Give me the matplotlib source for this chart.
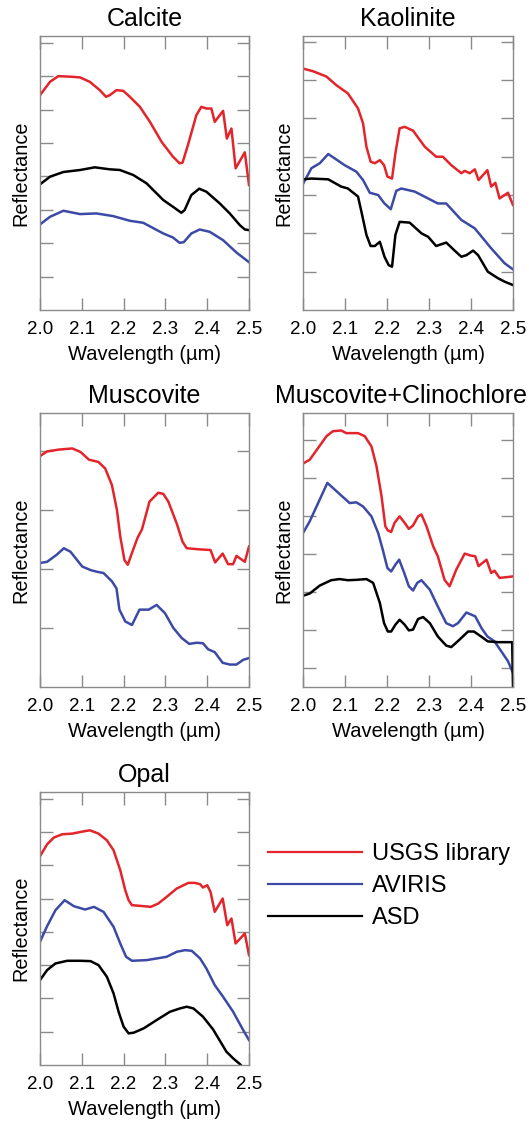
import numpy as np
import matplotlib.pyplot as plt
from matplotlib.lines import Line2D

plt.rcParams['font.family'] = ['Liberation Sans', 'DejaVu Sans']

RED = '#e3242b'
BLUE = '#3c4aa6'
BLACK = '#000000'
GRID = '#8a8a8a'

# ---- Calcite ----
calcite_usgs_x = [2.0, 2.024, 2.044, 2.076, 2.096, 2.119, 2.143, 2.158, 2.167, 2.183, 2.199, 2.215, 2.239,
                  2.263, 2.291, 2.318, 2.334, 2.341, 2.354, 2.374, 2.386, 2.398, 2.410, 2.418, 2.438,
                  2.447, 2.458, 2.468, 2.490, 2.5]
calcite_usgs_y = [6.43, 6.83, 7.0, 6.98, 6.96, 6.83, 6.58, 6.38, 6.43, 6.58, 6.56, 6.38, 6.08,
                  5.63, 5.03, 4.59, 4.39, 4.41, 4.94, 5.83, 6.08, 6.03, 6.03, 5.63, 5.96,
                  5.13, 5.43, 4.24, 4.72, 3.74]
calcite_aviris_x = [2.0, 2.024, 2.056, 2.096, 2.135, 2.175, 2.215, 2.247, 2.295, 2.318, 2.334, 2.344,
                    2.362, 2.382, 2.406, 2.438, 2.470, 2.5]
calcite_aviris_y = [2.56, 2.79, 2.97, 2.87, 2.89, 2.81, 2.67, 2.61, 2.29, 2.17, 2.01, 2.03,
                    2.29, 2.41, 2.34, 2.09, 1.72, 1.43]
calcite_asd_x = [2.0, 2.024, 2.056, 2.096, 2.131, 2.167, 2.191, 2.223, 2.255, 2.295, 2.318, 2.338,
                 2.346, 2.362, 2.381, 2.398, 2.430, 2.454, 2.478, 2.490, 2.5]
calcite_asd_y = [3.76, 3.99, 4.13, 4.19, 4.27, 4.21, 4.19, 4.04, 3.79, 3.29, 3.09, 2.91,
                 2.99, 3.44, 3.63, 3.54, 3.19, 2.89, 2.54, 2.41, 2.39]

# ---- Kaolinite ----
kaol_usgs_x = [2.0, 2.024, 2.056, 2.079, 2.107, 2.131, 2.143, 2.151, 2.161, 2.171, 2.183, 2.193, 2.201,
               2.212, 2.220, 2.230, 2.242, 2.262, 2.290, 2.317, 2.333, 2.353, 2.377, 2.385, 2.397,
               2.409, 2.418, 2.439, 2.448, 2.458, 2.468, 2.488, 2.5]
kaol_usgs_y = [6.30, 6.23, 6.09, 5.87, 5.65, 5.26, 4.87, 4.26, 3.87, 3.83, 3.91, 3.78, 3.48,
               3.43, 4.09, 4.74, 4.78, 4.68, 4.26, 4.0, 4.0, 3.78, 3.57, 3.63, 3.57,
               3.67, 3.39, 3.65, 3.22, 3.32, 2.91, 3.06, 2.74]
kaol_aviris_x = [2.0, 2.020, 2.040, 2.060, 2.075, 2.099, 2.127, 2.143, 2.159, 2.179, 2.194, 2.209,
                 2.222, 2.234, 2.266, 2.298, 2.321, 2.341, 2.377, 2.409, 2.448, 2.480, 2.5]
kaol_aviris_y = [3.29, 3.70, 3.83, 4.07, 3.96, 3.78, 3.61, 3.39, 3.06, 3.0, 2.78, 2.63,
                 3.11, 3.17, 3.09, 2.91, 2.78, 2.78, 2.35, 2.13, 1.61, 1.22, 1.06]
kaol_asd_x = [2.0, 2.020, 2.060, 2.091, 2.107, 2.131, 2.140, 2.151, 2.161, 2.171, 2.183, 2.194, 2.204,
              2.212, 2.220, 2.230, 2.254, 2.282, 2.298, 2.317, 2.341, 2.361, 2.377, 2.389, 2.405,
              2.417, 2.440, 2.464, 2.480, 2.5]
kaol_asd_y = [3.41, 3.43, 3.41, 3.22, 3.17, 2.96, 2.52, 1.96, 1.67, 1.67, 1.78, 1.39, 1.17,
              1.13, 1.96, 2.30, 2.28, 2.0, 1.91, 1.67, 1.76, 1.55, 1.39, 1.43, 1.55,
              1.43, 1.0, 0.83, 0.74, 0.65]

# ---- Muscovite ----
musc_usgs_x = [2.0, 2.017, 2.045, 2.077, 2.097, 2.117, 2.140, 2.156, 2.172, 2.184, 2.192, 2.202, 2.210,
               2.221, 2.233, 2.244, 2.262, 2.283, 2.295, 2.307, 2.327, 2.341, 2.351, 2.383, 2.408,
               2.419, 2.437, 2.450, 2.462, 2.470, 2.490, 2.5]
musc_usgs_y = [3.91, 3.99, 4.02, 4.04, 3.98, 3.85, 3.81, 3.70, 3.42, 3.0, 2.55, 2.15, 2.07,
               2.29, 2.52, 2.67, 3.14, 3.29, 3.27, 3.14, 2.77, 2.46, 2.35, 2.33, 2.32,
               2.11, 2.26, 2.08, 2.08, 2.22, 2.12, 2.38]
musc_aviris_x = [2.0, 2.017, 2.040, 2.057, 2.073, 2.101, 2.121, 2.137, 2.152, 2.172, 2.183, 2.190,
                 2.204, 2.220, 2.238, 2.260, 2.279, 2.299, 2.319, 2.339, 2.357, 2.375, 2.390, 2.402,
                 2.418, 2.437, 2.454, 2.470, 2.486, 2.5]
musc_aviris_y = [2.10, 2.12, 2.24, 2.35, 2.29, 2.04, 1.98, 1.95, 1.93, 1.79, 1.67, 1.31,
                 1.11, 1.05, 1.31, 1.31, 1.39, 1.25, 1.0, 0.83, 0.73, 0.75, 0.74, 0.64,
                 0.59, 0.41, 0.38, 0.38, 0.46, 0.49]

# ---- Muscovite+Clinochlore ----
mc_usgs_x = [2.0, 2.016, 2.036, 2.056, 2.071, 2.091, 2.103, 2.131, 2.147, 2.163, 2.175, 2.187, 2.196,
             2.202, 2.210, 2.218, 2.230, 2.242, 2.252, 2.262, 2.274, 2.282, 2.294, 2.310, 2.321,
             2.337, 2.349, 2.365, 2.385, 2.399, 2.410, 2.418, 2.437, 2.448, 2.456, 2.468, 2.5]
mc_usgs_y = [5.88, 5.98, 6.29, 6.60, 6.73, 6.75, 6.68, 6.68, 6.60, 6.33, 5.81, 5.02, 4.23,
             4.12, 4.08, 4.32, 4.49, 4.32, 4.16, 4.25, 4.49, 4.54, 4.23, 3.70, 3.44,
             2.82, 2.65, 3.09, 3.51, 3.46, 3.44, 3.18, 3.35, 3.0, 3.06, 2.87, 2.91]
mc_aviris_x = [2.0, 2.016, 2.036, 2.058, 2.067, 2.091, 2.111, 2.127, 2.143, 2.163, 2.179, 2.190, 2.201,
               2.210, 2.220, 2.229, 2.241, 2.252, 2.262, 2.272, 2.282, 2.302, 2.321, 2.341, 2.357,
               2.369, 2.389, 2.410, 2.425, 2.439, 2.456, 2.472, 2.488, 2.5]
mc_aviris_y = [4.05, 4.36, 4.84, 5.37, 5.28, 5.04, 4.84, 4.86, 4.75, 4.49, 4.05, 3.61, 3.13,
               3.04, 3.22, 3.35, 3.0, 2.65, 2.54, 2.74, 2.81, 2.56, 2.12, 1.68, 1.60,
               1.68, 1.96, 1.86, 1.55, 1.33, 1.20, 0.94, 0.68, 0.37]
mc_asd_x = [2.0, 2.016, 2.040, 2.067, 2.087, 2.107, 2.127, 2.151, 2.167, 2.183, 2.193, 2.202, 2.210,
            2.220, 2.230, 2.242, 2.252, 2.262, 2.274, 2.286, 2.302, 2.321, 2.341, 2.353, 2.373,
            2.393, 2.407, 2.429, 2.440, 2.464, 2.498, 2.5]
mc_asd_y = [2.40, 2.46, 2.67, 2.81, 2.84, 2.81, 2.82, 2.84, 2.74, 2.21, 1.68, 1.46, 1.46,
            1.64, 1.77, 1.64, 1.49, 1.51, 1.79, 1.84, 1.68, 1.33, 1.09, 1.05, 1.25,
            1.46, 1.46, 1.29, 1.20, 1.18, 1.18, 0.0]

# ---- Opal ----
opal_usgs_x = [2.0, 2.017, 2.033, 2.053, 2.077, 2.097, 2.119, 2.140, 2.160, 2.176, 2.192, 2.204, 2.212,
               2.220, 2.240, 2.265, 2.283, 2.303, 2.327, 2.355, 2.371, 2.383, 2.390, 2.400, 2.408,
               2.418, 2.437, 2.448, 2.458, 2.468, 2.490, 2.5]
opal_usgs_y = [6.27, 6.63, 6.83, 6.93, 6.95, 7.0, 7.05, 6.95, 6.75, 6.45, 5.85, 5.25, 4.95,
               4.80, 4.78, 4.75, 4.85, 5.05, 5.30, 5.47, 5.47, 5.43, 5.33, 5.40, 5.20,
               4.60, 5.0, 4.20, 4.40, 3.65, 3.95, 3.30]
opal_aviris_x = [2.0, 2.017, 2.037, 2.059, 2.081, 2.108, 2.129, 2.152, 2.176, 2.192, 2.206, 2.220,
                 2.255, 2.279, 2.303, 2.327, 2.347, 2.363, 2.383, 2.398, 2.418, 2.438, 2.462, 2.486, 2.5]
opal_aviris_y = [3.70, 4.17, 4.65, 4.95, 4.77, 4.67, 4.75, 4.60, 4.15, 3.65, 3.25, 3.13,
                 3.15, 3.20, 3.25, 3.40, 3.45, 3.43, 3.20, 2.90, 2.40, 2.05, 1.60, 1.05, 0.75]
opal_asd_x = [2.0, 2.017, 2.037, 2.065, 2.097, 2.121, 2.140, 2.160, 2.176, 2.188, 2.200, 2.212, 2.224,
              2.248, 2.279, 2.311, 2.335, 2.351, 2.367, 2.390, 2.414, 2.446, 2.462, 2.478, 2.486]
opal_asd_y = [2.55, 2.85, 3.05, 3.13, 3.13, 3.12, 3.0, 2.65, 2.15, 1.60, 1.15, 0.95, 0.97,
              1.10, 1.35, 1.60, 1.70, 1.75, 1.70, 1.45, 1.07, 0.40, 0.20, 0.03, -0.08]

x_ticks = [2.0, 2.1, 2.2, 2.3, 2.4, 2.5]
x_ticklabels = ['2.0', '2.1', '2.2', '2.3', '2.4', '2.5']

W, H = 529, 1125
fig = plt.figure(figsize=(W / 100, H / 100), dpi=100)


def make_ax(left, top, right, bottom):
    return fig.add_axes([left / W, 1 - bottom / H, (right - left) / W, (bottom - top) / H])


def style(ax, title, ylim, yticks, title_x=0.5):
    ax.set_xlim(2.0, 2.5)
    ax.set_ylim(*ylim)
    ax.set_xticks(x_ticks)
    ax.set_xticklabels(x_ticklabels, fontsize=13.5)
    ax.set_yticks(yticks)
    ax.set_yticklabels([])
    ax.tick_params(axis='both', direction='in', length=9, width=1, color=GRID,
                   top=True, right=True)
    ax.tick_params(axis='x', pad=8)
    ax.tick_params(axis='y', pad=1)
    for s in ax.spines.values():
        s.set_color(GRID)
        s.set_linewidth(1)
    ax.set_xlabel('Wavelength (\u00b5m)', fontsize=14.5, labelpad=5)
    ax.set_ylabel('Reflectance', fontsize=14.3, labelpad=6)
    ax.text(title_x, 1.02, title, transform=ax.transAxes, ha='center', va='bottom', fontsize=18)


LW = 1.8

ax1 = make_ax(40, 36, 249, 310)
ax1.plot(calcite_usgs_x, calcite_usgs_y, color=RED, lw=LW)
ax1.plot(calcite_asd_x, calcite_asd_y, color=BLACK, lw=LW)
ax1.plot(calcite_aviris_x, calcite_aviris_y, color=BLUE, lw=LW)
style(ax1, 'Calcite', (0, 8.2), range(1, 9))

ax2 = make_ax(303, 36, 513, 310)
ax2.plot(kaol_usgs_x, kaol_usgs_y, color=RED, lw=LW)
ax2.plot(kaol_aviris_x, kaol_aviris_y, color=BLUE, lw=LW)
ax2.plot(kaol_asd_x, kaol_asd_y, color=BLACK, lw=LW)
style(ax2, 'Kaolinite', (0, 7.15), range(1, 8))

ax3 = make_ax(40, 413, 249, 687)
ax3.plot(musc_usgs_x, musc_usgs_y, color=RED, lw=LW)
ax3.plot(musc_aviris_x, musc_aviris_y, color=BLUE, lw=LW)
style(ax3, 'Muscovite', (0, 4.64), range(1, 5))

ax4 = make_ax(303, 413, 513, 687)
ax4.plot(mc_usgs_x, mc_usgs_y, color=RED, lw=LW)
ax4.plot(mc_aviris_x, mc_aviris_y, color=BLUE, lw=LW)
ax4.plot(mc_asd_x, mc_asd_y, color=BLACK, lw=LW)
style(ax4, 'Muscovite+Clinochlore', (0, 7.21), np.arange(0.5, 7, 1.0), title_x=0.467)

ax5 = make_ax(40, 792, 249, 1065)
ax5.plot(opal_usgs_x, opal_usgs_y, color=RED, lw=LW)
ax5.plot(opal_aviris_x, opal_aviris_y, color=BLUE, lw=LW)
ax5.plot(opal_asd_x, opal_asd_y, color=BLACK, lw=LW)
style(ax5, 'Opal', (0, 8.2), range(1, 9))

handles = [Line2D([], [], color=RED, lw=1.6),
           Line2D([], [], color=BLUE, lw=1.6),
           Line2D([], [], color=BLACK, lw=1.6)]
fig.legend(handles, ['USGS library', 'AVIRIS', 'ASD'], loc='upper left',
           bbox_to_anchor=(268 / W, 1 - 843 / H), frameon=False, fontsize=17,
           handlelength=4.0, handletextpad=0.4, labelspacing=0.42, borderaxespad=0, borderpad=0)

fig.savefig('out.png', dpi=100)
